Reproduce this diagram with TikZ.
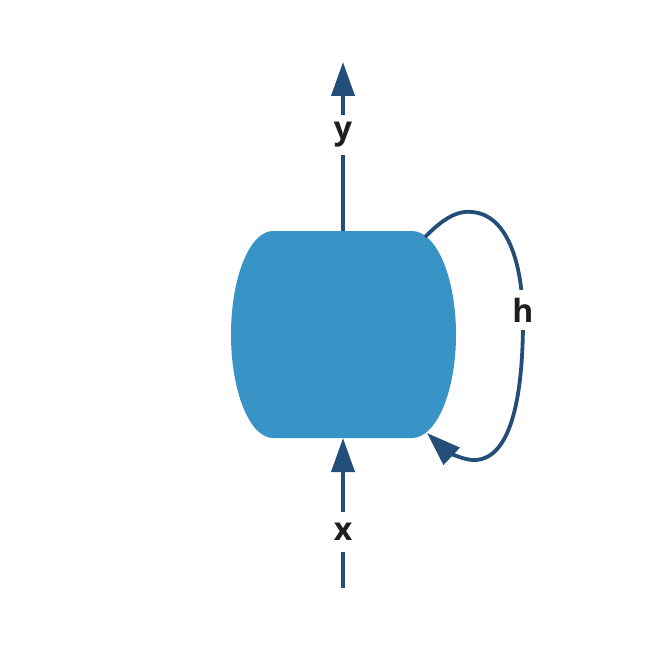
\documentclass[tikz,border=0pt]{standalone}
\usepackage{fontspec}
\setmainfont{Open Sans}
\usetikzlibrary{arrows.meta}
\definecolor{cellblue}{HTML}{3893C6}
\definecolor{linkblue}{HTML}{234E7A}
\definecolor{txt}{HTML}{1E1E1E}
\tikzset{
  link/.style={draw=linkblue, line width=3.8pt, -{Triangle[length=34pt,width=23pt]}},
  lbl/.style={fill=white, text=txt, font=\fontsize{32}{32}\selectfont\bfseries, inner sep=0pt, minimum height=40pt, minimum width=30pt},
}
\begin{document}
\begin{tikzpicture}[x=1pt,y=-1pt]
\useasboundingbox (0,0) rectangle (668,668);
% cell (barrel)
\fill[cellblue] (273,231) -- (412,231)
  arc[start angle=-90,end angle=90,x radius=44,y radius=103.5]
  -- (273,438)
  arc[start angle=90,end angle=270,x radius=42,y radius=103.5] -- cycle;
\coordinate (celltop) at (343,231);
\coordinate (cellbot) at (343,438);
\coordinate (cellne) at (425,237);
\coordinate (cellse) at (427,433);
\coordinate (out) at (343,62);
\coordinate (in) at (343,588);
% input and output
\draw[link] (in) -- (cellbot);
\draw[link] (celltop) -- (out);
% recurrent loop
\draw[link] (cellne) .. controls (440,222) and (455,210) .. (472,212)
  .. controls (510,215) and (523,270) .. (523,320)
  .. controls (523,400) and (510,462) .. (472,460)
  .. controls (460,459) and (445,450) .. (cellse);
% labels
\node[lbl] (ylbl) at (343,135) {y};
\node[lbl] (xlbl) at (343,532) {x};
\node[lbl, minimum width=26pt] (hlbl) at (523,310) {h};
\end{tikzpicture}
\end{document}
